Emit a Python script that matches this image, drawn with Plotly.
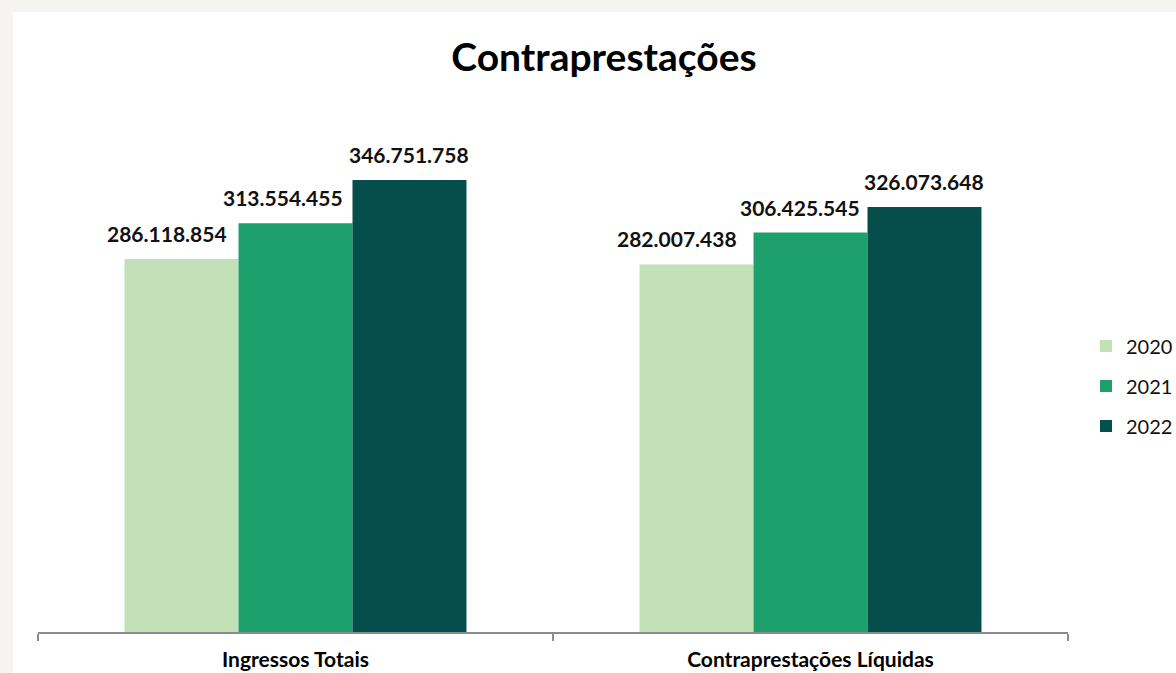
import plotly.graph_objects as go

categories = ["Ingressos Totais", "Contraprestações Líquidas"]
years = ["2020", "2021", "2022"]
values_2020 = [286118854, 282007438]
values_2021 = [313554455, 306425545]
values_2022 = [346751758, 326073648]

series = [values_2020, values_2021, values_2022]
colors = ["#c3e1b8", "#1da06c", "#064e4b"]
label_nudge = [[-15, -20], [-13, -11], [0, 0]]  # px, horizontal label tweaks


def fmt(v):
    return f"{v:,}".replace(",", ".")


FONT = "Lato, 'Open Sans', sans-serif"
W, H = 1176, 673
ml, mr, mt, mb = 38, 108, 111, 41

fig = go.Figure()
for yr, vals, col in zip(years, series, colors):
    fig.add_trace(go.Bar(
        name=yr, x=categories, y=vals, marker=dict(color=col, line=dict(width=0)),
        legendgroup=yr,
    ))

n = len(years)
group_w = 0.664
bar_w = group_w / n
annotations = []
for j, vals in enumerate(series):
    for i, v in enumerate(vals):
        annotations.append(dict(
            x=i + (j - (n - 1) / 2) * bar_w, y=v, xref="x", yref="y",
            text=fmt(v), showarrow=False, yanchor="bottom",
            yshift=11, xshift=label_nudge[j][i],
            font=dict(family=FONT, size=21, color="#111111", weight="bold"),
        ))

pw = W - ml - mr
ph = H - mt - mb
fig.update_layout(
    width=W, height=H,
    margin=dict(l=ml, r=mr, t=mt, b=mb, autoexpand=False),
    paper_bgcolor="#f5f4f0", plot_bgcolor="rgba(0,0,0,0)",
    barmode="group", bargap=1 - group_w, bargroupgap=0,
    title=dict(text="<b>Contraprestações</b>", x=604 / W, xref="container",
               xanchor="center", y=1 - 57 / H, yref="container", yanchor="middle",
               font=dict(family=FONT, size=39, color="#000000")),
    xaxis=dict(showline=True, linecolor="#8c8c8c", linewidth=1.5,
               ticks="outside", tickson="boundaries", ticklen=7, tickcolor="#8c8c8c",
               tickwidth=1.5,
               tickfont=dict(family=FONT, size=21, color="#000000", weight="bold"),
               ticklabelstandoff=8),
    yaxis=dict(range=[0, 399.7e6], visible=False, showgrid=False),
    legend=dict(x=1 + (1086 - W + mr) / pw, xanchor="left", y=0.472, yanchor="middle",
                font=dict(family=FONT, size=20, color="#111111"),
                tracegroupgap=11, bgcolor="rgba(0,0,0,0)"),
    annotations=annotations,
    showlegend=True,
    shapes=[dict(type="rect", xref="paper", yref="paper", layer="below",
                 x0=(13 - ml) / pw, x1=1.3, y0=-0.3, y1=(H - 12 - mb) / ph,
                 fillcolor="#ffffff", line=dict(width=0))],
)

fig.write_html("out.html")
